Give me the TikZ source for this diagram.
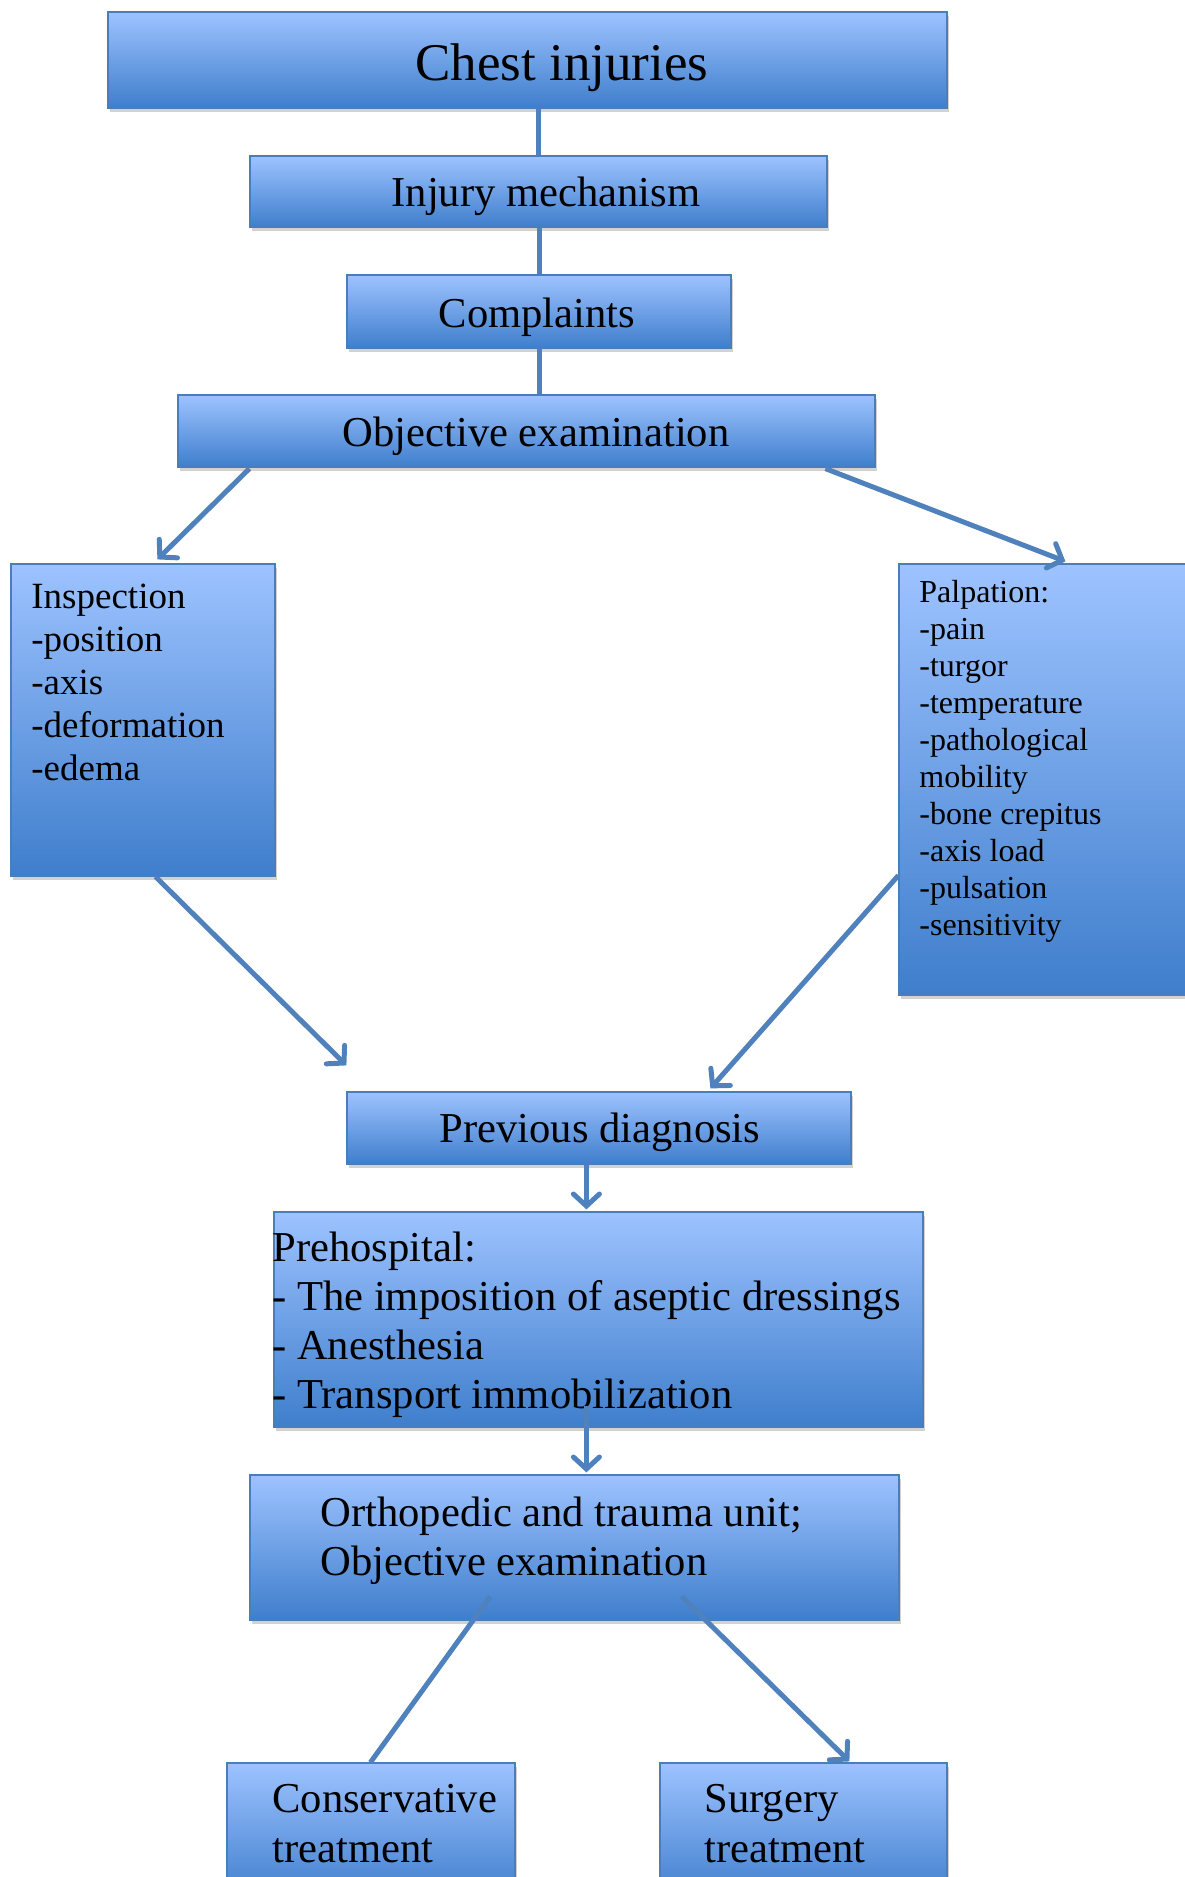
\documentclass[tikz,border=0pt]{standalone}
\usepackage{fontspec}
\setmainfont{Liberation Serif}
\usetikzlibrary{arrows.meta,calc,fit,shadows}
\definecolor{boxtop}{HTML}{9DC3FF}
\definecolor{boxbot}{HTML}{3F7ECC}
\definecolor{boxline}{HTML}{4A7EBB}
\definecolor{conn}{HTML}{4F81BD}
\begin{document}
\begin{tikzpicture}[x=0.5pt,y=-0.5pt,
  box/.style={draw=boxline, line width=0.6pt, top color=boxtop, bottom color=boxbot,
    inner sep=0pt, drop shadow={shadow xshift=0.8pt, shadow yshift=-2pt, opacity=0.35}},
  conline/.style={draw=conn, line width=2.5pt},
  conarrow/.style={conline, -{Straight Barb[length=6pt,width=13pt,line cap=round]}},
  tbig/.style={font=\fontsize{26.5}{30}\selectfont, inner sep=0pt},
  tmid/.style={font=\fontsize{21.3}{24.5}\selectfont, inner sep=0pt},
  tinsp/.style={font=\fontsize{18.5}{21.5}\selectfont, inner sep=0pt},
  tpalp/.style={font=\fontsize{16}{18.5}\selectfont, inner sep=0pt}
]
\fill[white] (0,0) rectangle (1184,1877);
\useasboundingbox (0,0) rectangle (1184,1877);

% boxes
\node[box, fit={(108,12) (947,108)}] (chest) {};
\node[box, fit={(250,156) (827,227)}] (inj) {};
\node[box, fit={(347,275) (731,348)}] (comp) {};
\node[box, fit={(178,395) (875,467)}] (obj) {};
\node[box, fit={(11,564) (275,876)}] (insp) {};
\node[box, fit={(899,564) (1192,995)}] (palp) {};
\node[box, fit={(347,1092) (851,1164)}] (prev) {};
\node[box, fit={(274,1212) (923,1427)}] (preh) {};
\node[box, fit={(250,1475) (899,1620)}] (orth) {};
\node[box, fit={(227,1763) (515,1900)}] (cons) {};
\node[box, fit={(660,1763) (947,1900)}] (surg) {};

% texts
\node[tbig, anchor=base] (tchest) at (562,81) {Chest injuries};
\node[tmid, anchor=base] (tinj) at (546,207) {Injury mechanism};
\node[tmid, anchor=base] (tcomp) at (537,328) {Complaints};
\node[tmid, anchor=base] (tobj) at (536,447) {Objective examination};
\node[tmid, anchor=base] (tprev) at (600,1142) {Previous diagnosis};

\foreach \t [count=\i from 0] in {Inspection,-position,-axis,-deformation,-edema}
  \node[tinsp, anchor=base west] (insp\i) at (31,{608+43*\i}) {\t};

\foreach \t [count=\i from 0] in {Palpation:,-pain,-turgor,-temperature,-pathological,mobility,-bone crepitus,-axis load,-pulsation,-sensitivity}
  \node[tpalp, anchor=base west] (palp\i) at (919,{602+37.1*\i}) {\t};

\foreach \t [count=\i from 0] in {Prehospital:,- The imposition of aseptic dressings,- Anesthesia,- Transport immobilization}
  \node[tmid, anchor=base west] (preh\i) at (272,{1261+49.1*\i}) {\t};

\node[tmid, anchor=base west] (orth0) at (320,1526) {Orthopedic and trauma unit;};
\node[tmid, anchor=base west] (orth1) at (320,1575) {Objective examination};

\node[tmid, anchor=base west] (cons0) at (272,1812) {Conservative};
\node[tmid, anchor=base west] (cons1) at (272,1862) {treatment};
\node[tmid, anchor=base west] (surg0) at (704,1812) {Surgery};
\node[tmid, anchor=base west] (surg1) at (704,1862) {treatment};

% connectors
\draw[conline] (inj.north) -- (inj.north |- chest.south);
\draw[conline] (comp.north) -- (comp.north |- inj.south);
\draw[conline] (comp.south) -- (comp.south |- obj.north);

\draw[conarrow] ($(obj.south west)+(72,1)$) -- ($(insp.north west)+(147,-4)$);
\draw[conarrow] ($(obj.south west)+(648,1)$) -- ($(palp.north west)+(167,-2)$);
\draw[conarrow] ($(insp.south west)+(145,0)$) -- ($(prev.north west)+(0,-26)$);
\draw[conarrow] ($(palp.north west)+(0,312)$) -- ($(prev.north west)+(364,-3)$);
\draw[conarrow] ($(prev.south west)+(240,0)$) -- ($(preh.north west)+(313,-2)$);
\draw[conarrow] ($(preh.north west)+(313,195)$) -- ($(orth.north west)+(337,-2)$);
\draw[conline] ($(orth.north west)+(241,122)$) -- ($(cons.north west)+(144,0)$);
\draw[conarrow] ($(orth.north west)+(432,122)$) -- ($(surg.north west)+(190,-1)$);
\end{tikzpicture}
\end{document}
